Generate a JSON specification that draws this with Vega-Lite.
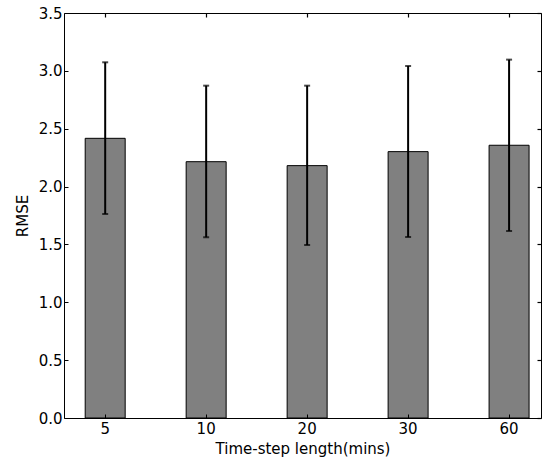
{
  "$schema": "https://vega.github.io/schema/vega-lite/v6.json",
  "width": 477,
  "height": 405,
  "autosize": {"type": "none"},
  "padding": {"left": 64, "top": 13, "right": 8, "bottom": 45},
  "background": "white",
  "config": {
    "font": "DejaVu Sans",
    "view": {"stroke": "black", "strokeWidth": 1},
    "axis": {
      "domain": false,
      "grid": false,
      "tickColor": "black",
      "tickSize": -4,
      "tickWidth": 1,
      "labelColor": "black",
      "labelFontSize": 15,
      "titleColor": "black",
      "titleFontSize": 15,
      "titleFontWeight": "normal"
    }
  },
  "data": {
    "values": [
      {"step": "5", "rmse": 2.417, "lo": 1.763, "hi": 3.074},
      {"step": "10", "rmse": 2.215, "lo": 1.562, "hi": 2.872},
      {"step": "20", "rmse": 2.181, "lo": 1.495, "hi": 2.872},
      {"step": "30", "rmse": 2.302, "lo": 1.564, "hi": 3.042},
      {"step": "60", "rmse": 2.357, "lo": 1.616, "hi": 3.097}
    ]
  },
  "layer": [
    {
      "mark": {"type": "bar", "color": "#808080", "stroke": "black", "strokeWidth": 1},
      "encoding": {
        "x": {
          "field": "step",
          "type": "ordinal",
          "sort": ["5", "10", "20", "30", "60"],
          "scale": {"paddingInner": 0.604, "paddingOuter": 0.164, "align": 0.64},
          "axis": {"orient": "bottom", "labelAngle": 0, "labelPadding": 7, "title": "Time-step length(mins)", "titlePadding": 5, "zindex": 1}
        },
        "y": {
          "field": "rmse",
          "type": "quantitative",
          "scale": {"domain": [0, 3.5], "nice": false, "zero": true},
          "axis": {"orient": "left", "values": [0, 0.5, 1, 1.5, 2, 2.5, 3, 3.5], "format": ".1f", "title": "RMSE", "labelPadding": 6, "titlePadding": 8, "zindex": 1}
        }
      }
    },
    {
      "mark": {"type": "rule", "color": "black", "strokeWidth": 2},
      "encoding": {
        "x": {"field": "step", "type": "ordinal", "sort": ["5", "10", "20", "30", "60"], "axis": null},
        "y": {"field": "lo", "type": "quantitative", "axis": null},
        "y2": {"field": "hi"}
      }
    },
    {
      "mark": {"type": "tick", "color": "black", "thickness": 2, "size": 6, "orient": "horizontal"},
      "encoding": {
        "x": {"field": "step", "type": "ordinal", "sort": ["5", "10", "20", "30", "60"], "axis": null},
        "y": {"field": "lo", "type": "quantitative", "axis": null}
      }
    },
    {
      "mark": {"type": "tick", "color": "black", "thickness": 2, "size": 6, "orient": "horizontal"},
      "encoding": {
        "x": {"field": "step", "type": "ordinal", "sort": ["5", "10", "20", "30", "60"], "axis": null},
        "y": {"field": "hi", "type": "quantitative", "axis": null}
      }
    },
    {
      "mark": {"type": "point", "opacity": 0},
      "encoding": {
        "x": {
          "field": "step",
          "type": "ordinal",
          "sort": ["5", "10", "20", "30", "60"],
          "axis": {"orient": "top", "labels": false, "title": null, "ticks": true, "tickSize": -4, "tickWidth": 1.2, "tickColor": "black", "zindex": 1, "offset": 0}
        },
        "y": {
          "field": "rmse",
          "type": "quantitative",
          "axis": {"orient": "right", "values": [0, 0.5, 1, 1.5, 2, 2.5, 3, 3.5], "labels": false, "title": null, "ticks": true, "tickSize": -4, "tickWidth": 1.2, "tickColor": "black", "zindex": 1, "offset": 0}
        }
      }
    }
  ],
  "resolve": {"axis": {"x": "independent", "y": "independent"}}
}
